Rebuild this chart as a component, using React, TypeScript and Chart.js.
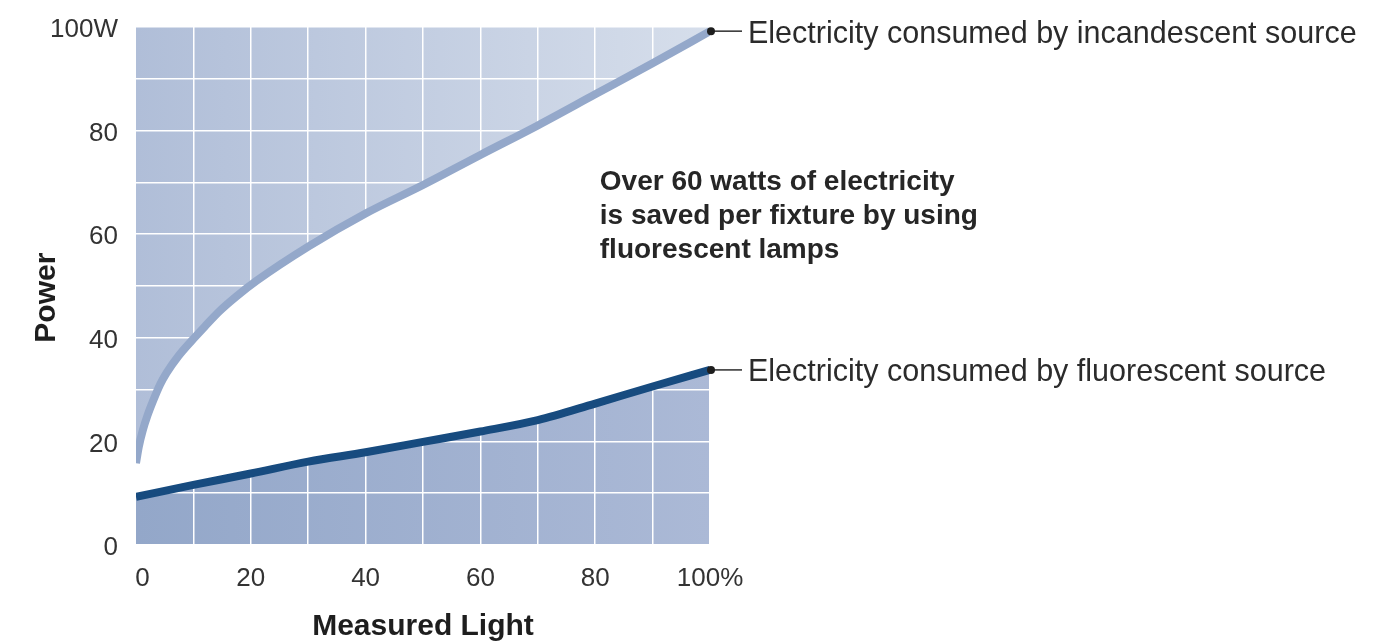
import React, { useEffect, useRef } from 'react';
import { Chart, registerables } from 'chart.js';

Chart.register(...registerables);

// ---- data ----
const incandescentLight = [0, 0.5, 1.2, 2, 3, 4.2, 5.3, 7.4, 10, 12, 14.6, 17.5, 21, 30, 40, 50, 60, 70, 80, 90, 100];
const incandescentWatts = [15.8, 19, 22.2, 25.0, 27.9, 31.0, 33.2, 36.5, 39.8, 42.2, 45.2, 48, 51, 57.6, 64, 69.5, 75.3, 81, 87, 93, 99.2];
const fluorescentLight = [0, 10, 20, 30, 40, 50, 60, 70, 80, 90, 100];
const fluorescentWatts = [9.3, 11.6, 13.8, 16.1, 17.9, 19.9, 21.9, 24.1, 27.3, 30.6, 33.8];

const xTickValues = [0, 20, 40, 60, 80, 100];
const xTickLabels = ['0', '20', '40', '60', '80', '100%'];
const yTickValues = [0, 20, 40, 60, 80, 100];
const yTickLabels = ['0', '20', '40', '60', '80', '100W'];

const seriesLabels = [
  'Electricity consumed by incandescent source',
  'Electricity consumed by fluorescent source',
];
const calloutLines = [
  'Over 60 watts of electricity',
  'is saved per fixture by using',
  'fluorescent lamps',
];
const xTitle = 'Measured Light';
const yTitle = 'Power';
const calloutAnchor = { x: 80.8, y: 70.0 };

// ---- styles ----
const FONT = '"Liberation Sans", Arial, Helvetica, sans-serif';
const topStops: [number, string][] = [[0, '#b0bed8'], [1, '#d6deeb']];
const midStops: [number, string][] = [[0, '#dde4ef'], [0.5, '#e9edf5'], [0.85, '#fafbfd'], [1, '#ffffff']];
const lowStops: [number, string][] = [[0, '#93a7c9'], [1, '#abb9d6']];

function gradient(chart: any, stops: [number, string][]) {
  const { ctx, chartArea } = chart;
  if (!chartArea) return stops[0][1];
  const g = ctx.createLinearGradient(chartArea.left, 0, chartArea.right, 0);
  stops.forEach(([o, c]) => g.addColorStop(o, c));
  return g;
}

const leaderPlugin = {
  id: 'leaderLabels',
  afterDatasetsDraw(chart: any) {
    const { ctx, scales } = chart;
    const xs = scales.x;
    const ys = scales.y;
    ctx.save();
    const ends = [
      { x: incandescentLight[incandescentLight.length - 1], y: incandescentWatts[incandescentWatts.length - 1], label: seriesLabels[0] },
      { x: fluorescentLight[fluorescentLight.length - 1], y: fluorescentWatts[fluorescentWatts.length - 1], label: seriesLabels[1] },
    ];
    ends.forEach((e) => {
      const px = xs.getPixelForValue(e.x) + 1;
      const py = ys.getPixelForValue(e.y);
      ctx.fillStyle = '#1e1e1e';
      ctx.beginPath();
      ctx.arc(px, py, 4, 0, Math.PI * 2);
      ctx.fill();
      ctx.strokeStyle = '#1e1e1e';
      ctx.lineWidth = 1.4;
      ctx.beginPath();
      ctx.moveTo(px, py);
      ctx.lineTo(px + 31, py);
      ctx.stroke();
      ctx.font = `30.5px ${FONT}`;
      ctx.fillStyle = '#2b2b2b';
      ctx.textAlign = 'left';
      ctx.textBaseline = 'middle';
      ctx.fillText(e.label, px + 37, py + 3);
    });
    const cx = xs.getPixelForValue(calloutAnchor.x);
    const cy = ys.getPixelForValue(calloutAnchor.y);
    ctx.font = `bold 28px ${FONT}`;
    ctx.fillStyle = '#262626';
    ctx.textBaseline = 'middle';
    calloutLines.forEach((t, i) => ctx.fillText(t, cx, cy + i * 34));
    ctx.restore();
  },
};

export default function App() {
  const ref = useRef<HTMLCanvasElement | null>(null);
  useEffect(() => {
    if (!ref.current) return;
    const chart = new Chart(ref.current, {
      type: 'line',
      data: {
        datasets: [
          {
            label: seriesLabels[1],
            data: fluorescentLight.map((v, i) => ({ x: v, y: fluorescentWatts[i] })),
            borderColor: '#174b7f',
            borderWidth: 8,
            backgroundColor: (c: any) => gradient(c.chart, lowStops),
            fill: 'origin',
            pointRadius: 0,
            cubicInterpolationMode: 'monotone',
            clip: 0,
          },
          {
            label: seriesLabels[0],
            data: incandescentLight.map((v, i) => ({ x: v, y: incandescentWatts[i] })),
            borderColor: '#94a8ca',
            borderWidth: 8,
            backgroundColor: (c: any) => gradient(c.chart, midStops),
            fill: '-1',
            pointRadius: 0,
            cubicInterpolationMode: 'monotone',
            clip: 0,
          },
          {
            label: 'above',
            data: incandescentLight.map((v, i) => ({ x: v, y: incandescentWatts[i] })),
            borderColor: 'rgba(0,0,0,0)',
            borderWidth: 0,
            backgroundColor: (c: any) => gradient(c.chart, topStops),
            fill: 'end',
            pointRadius: 0,
            cubicInterpolationMode: 'monotone',
            clip: 0,
          },
        ],
      } as any,
      options: {
        animation: false,
        responsive: false,
        layout: { padding: { left: 0, top: 27, right: 686, bottom: 0 } },
        plugins: {
          legend: { display: false },
          tooltip: { enabled: false },
          filler: { drawTime: 'beforeDraw', propagate: false },
        } as any,
        scales: {
          x: {
            type: 'linear',
            min: 0,
            max: 100,
            afterFit: (s: any) => { s.height = 96; s.paddingLeft = 0; s.paddingRight = 0; },
            border: { display: false },
            grid: {
              drawTicks: false,
              lineWidth: 1.5,
              color: (c: any) => (c.tick && c.tick.value === 0 ? 'rgba(0,0,0,0)' : '#ffffff'),
            },
            ticks: {
              stepSize: 10,
              autoSkip: false,
              maxRotation: 0,
              padding: 18,
              color: '#333333',
              font: { family: FONT, size: 26 },
              callback: (v: any) => {
                const i = xTickValues.indexOf(Number(v));
                if (i < 0) return '';
                return i === 0 ? '\u2002' + xTickLabels[i] : xTickLabels[i];
              },
            },
            title: {
              display: true,
              text: xTitle,
              color: '#1e1e1e',
              font: { family: FONT, size: 30, weight: 'bold' },
              padding: { top: 0, bottom: -4 },
            },
          },
          y: {
            type: 'linear',
            min: 0,
            max: 100,
            afterFit: (s: any) => { s.width = 136; s.paddingTop = 0; s.paddingBottom = 0; },
            border: { display: false },
            grid: {
              drawTicks: false,
              lineWidth: 1.5,
              color: '#ffffff',
            },
            ticks: {
              stepSize: 10,
              autoSkip: false,
              padding: 18,
              labelOffset: 3,
              color: '#333333',
              font: { family: FONT, size: 26 },
              callback: (v: any) => {
                const i = yTickValues.indexOf(Number(v));
                return i < 0 ? '' : yTickLabels[i];
              },
            },
            title: {
              display: true,
              text: yTitle + '\u2002 ',
              color: '#1e1e1e',
              font: { family: FONT, size: 30, weight: 'bold' },
              padding: { top: 29, bottom: 0 },
            },
          },
        },
      } as any,
      plugins: [leaderPlugin],
    });
    return () => chart.destroy();
  }, []);
  return (
    <div style={{ position: 'absolute', left: 0, top: 0, width: 1396, height: 641, background: '#ffffff' }}>
      <canvas ref={ref} width={1396} height={641} style={{ display: 'block' }} />
    </div>
  );
}
